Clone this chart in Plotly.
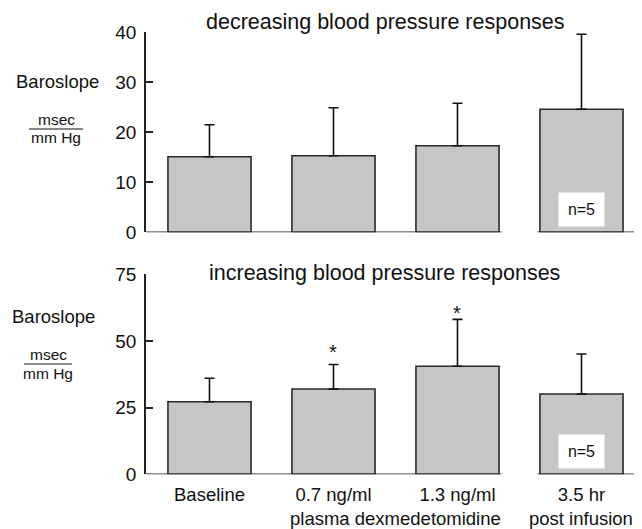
import plotly.graph_objects as go
from plotly.subplots import make_subplots

# ---- data ----
categories = ["Baseline", "0.7 ng/ml", "1.3 ng/ml", "3.5 hr"]
decreasing_mean = [15.1, 15.3, 17.3, 24.6]
decreasing_upper = [21.5, 24.9, 25.8, 39.6]
increasing_mean = [27.2, 32.0, 40.5, 30.1]
increasing_upper = [36.0, 41.2, 58.1, 45.1]
increasing_sig = [False, True, True, False]
top_ticks = [0, 10, 20, 30, 40]
bottom_ticks = [0, 25, 50, 75]
panel_titles = ["decreasing blood pressure responses", "increasing blood pressure responses"]
n_label = "n=5"
group_label = "plasma dexmedetomidine"
post_label = "post infusion"

# page is 642x529; the plot div sits 8px in from the page corner (body margin)
OFF = 8
W, H = 642 - OFF, 529 - OFF
L = 146 - OFF
FONT = "Liberation Sans, Arial, sans-serif"
BAR_W = 0.67
XR = [-0.512, 3.488]

def px_x(p):
    """page pixel x -> paper x"""
    return (p - OFF - L) / (W - L)

def px_y(p):
    """page pixel y -> paper y"""
    return 1 - (p - OFF) / H

fig = make_subplots(rows=2, cols=1)
xpos = list(range(len(categories)))

panels = [
    (decreasing_mean, decreasing_upper, 1, [0, 40], top_ticks, (32.3, 232.3)),
    (increasing_mean, increasing_upper, 2, [0, 75], bottom_ticks, (274.3, 474.3)),
]

for means, uppers, row, yr, ticks, (ptop, pbot) in panels:
    fig.add_trace(go.Bar(
        x=xpos, y=means, width=BAR_W,
        marker=dict(color="#c6c6c6", line=dict(color="#2a2a2a", width=1.6)),
        error_y=dict(type="data", symmetric=False,
                     array=[u - m for u, m in zip(uppers, means)],
                     arrayminus=[0] * len(means),
                     color="#111111", thickness=1.6, width=5),
        showlegend=False, hoverinfo="skip",
    ), row=row, col=1)
    fig.update_yaxes(range=yr, tickvals=ticks, ticks="inside", ticklen=7, tickwidth=1.6,
                     tickcolor="#222", showline=True, linecolor="#222", linewidth=1.8,
                     showgrid=False, zeroline=False, ticklabelstandoff=4,
                     tickfont=dict(family=FONT, size=19, color="#111"),
                     domain=[px_y(pbot), px_y(ptop)], row=row, col=1)
    fig.update_xaxes(range=XR, showline=False, showgrid=False, zeroline=False,
                     row=row, col=1)
    xa = "x" if row == 1 else "x2"
    ya = "y" if row == 1 else "y2"
    # broken baseline axis
    brk0 = 2 + BAR_W / 2 + 0.02
    brk1 = 3 - BAR_W / 2 - 0.02
    for a, b in [(XR[0], brk0), (brk1, XR[1])]:
        fig.add_shape(type="line", xref=xa, yref=ya, x0=a, x1=b, y0=0, y1=0,
                      line=dict(color="#222", width=1.8), layer="above")
    # n=5 box
    fig.add_annotation(x=3, y=0, xref=xa, yref=ya, text=n_label, showarrow=False,
                       xanchor="center", yanchor="bottom", yshift=5, bgcolor="white",
                       width=45, height=33, borderpad=0,
                       font=dict(family=FONT, size=16, color="#111"))

fig.update_xaxes(showticklabels=False, row=1, col=1)
fig.update_xaxes(tickvals=xpos, ticktext=categories, ticks="", ticklabelstandoff=7,
                 tickfont=dict(family=FONT, size=18.5, color="#111"), row=2, col=1)

# asterisks
for i, (sig, up) in enumerate(zip(increasing_sig, increasing_upper)):
    if sig:
        fig.add_annotation(x=i, y=up, xref="x2", yref="y2", text="*", showarrow=False,
                           xanchor="center", yanchor="middle", yshift=12 if i == 1 else 6,
                           font=dict(family=FONT, size=20, color="#111"))

# second-line category labels
for x, txt in [(1.5, group_label), (3, post_label)]:
    fig.add_annotation(x=x, y=px_y(518), xref="x2", yref="paper", text=txt,
                       showarrow=False, xanchor="center", yanchor="middle",
                       font=dict(family=FONT, size=18.5, color="#111"))

# panel titles
for title, (tx, ty) in zip(panel_titles, [(385.5, 21.5), (384, 273.3)]):
    fig.add_annotation(x=px_x(tx), y=px_y(ty), xref="paper", yref="paper", text=title,
                       showarrow=False, xanchor="center", yanchor="middle",
                       font=dict(family=FONT, size=21.5, color="#111"))

# y labels with fraction
for (bx, by), (fx, fy_top, fline, fy_bot, fl0, fl1) in [
    ((57, 81.7), (56, 119, 129, 137.5, 29, 83)),
    ((53.5, 316.7), (48, 355, 364, 373, 24, 72)),
]:
    fig.add_annotation(x=px_x(bx), y=px_y(by), xref="paper", yref="paper", text="Baroslope",
                       showarrow=False, xanchor="center", yanchor="middle",
                       font=dict(family=FONT, size=18.5, color="#111"))
    fig.add_annotation(x=px_x(fx), y=px_y(fy_top), xref="paper", yref="paper", text="msec",
                       showarrow=False, xanchor="center", yanchor="middle",
                       font=dict(family=FONT, size=15.5, color="#111"))
    fig.add_annotation(x=px_x(fx), y=px_y(fy_bot), xref="paper", yref="paper", text="mm Hg",
                       showarrow=False, xanchor="center", yanchor="middle",
                       font=dict(family=FONT, size=15.5, color="#111"))
    fig.add_shape(type="line", xref="paper", yref="paper", x0=px_x(fl0), x1=px_x(fl1),
                  y0=px_y(fline), y1=px_y(fline), line=dict(color="#111", width=1.2))

fig.update_layout(width=W, height=H, margin=dict(l=L, r=0, t=0, b=0, autoexpand=False),
                  paper_bgcolor="white", plot_bgcolor="white", bargap=0.33,
                  font=dict(family=FONT, color="#111"))

fig.write_html("out.html")
